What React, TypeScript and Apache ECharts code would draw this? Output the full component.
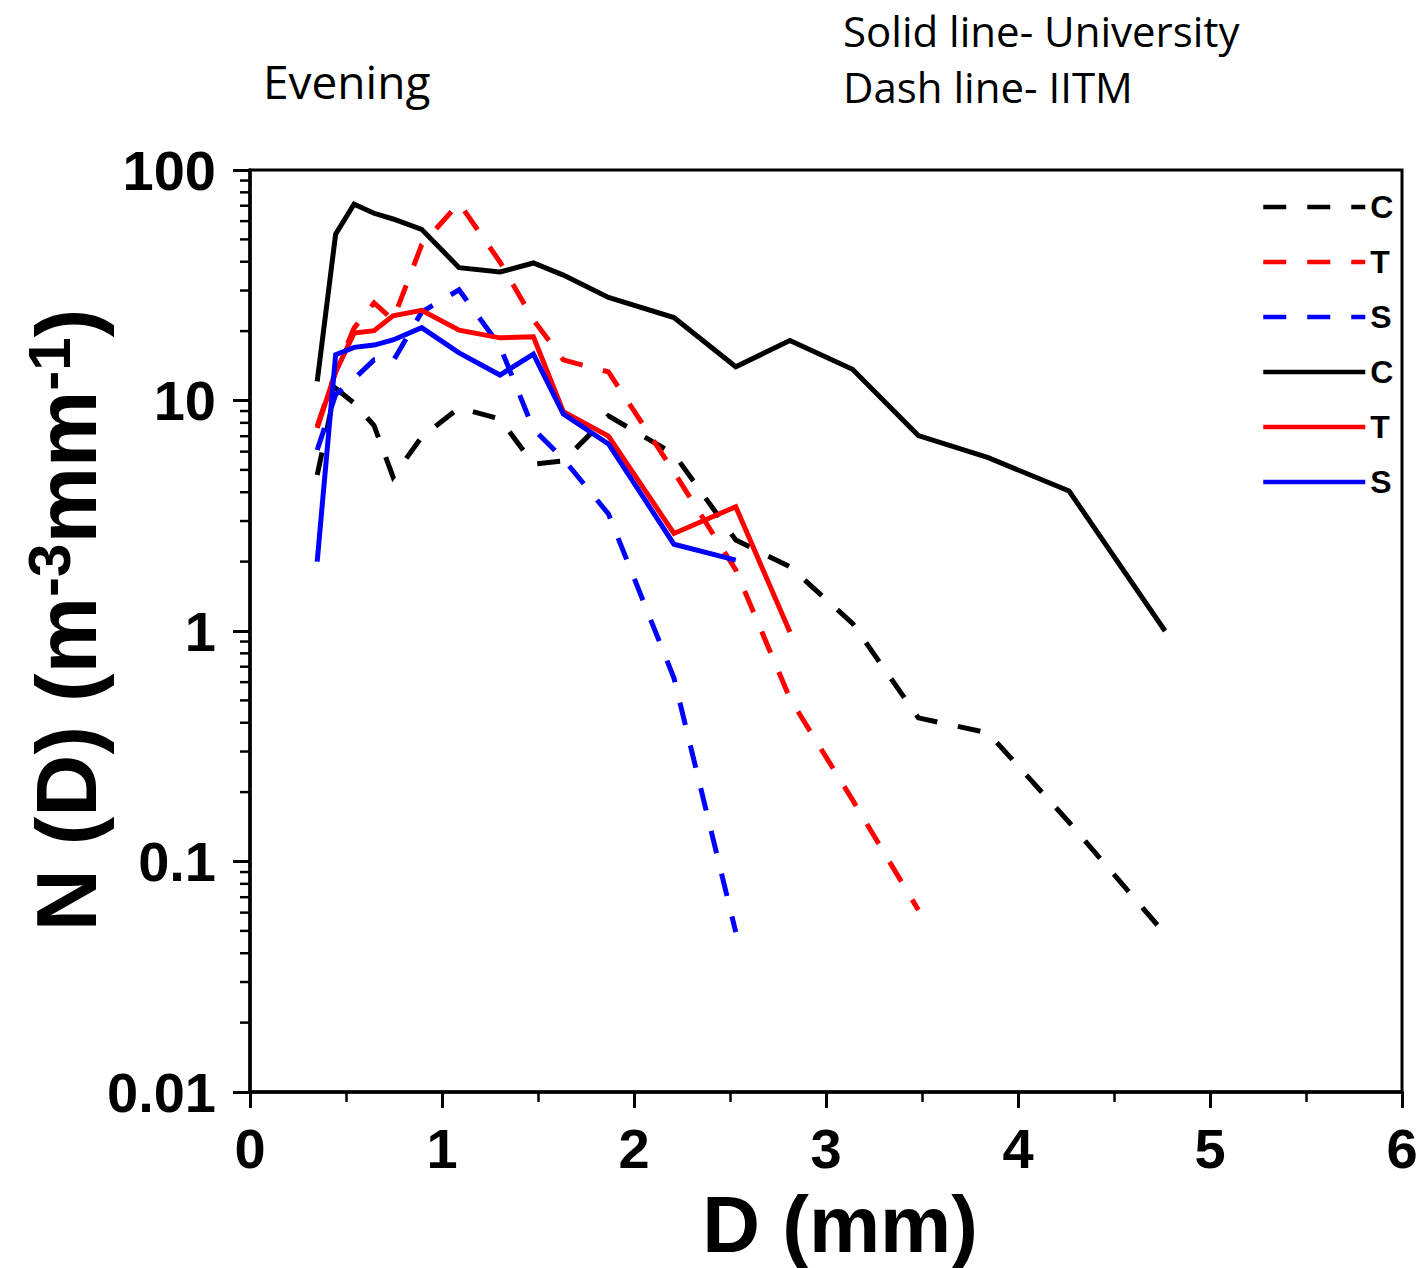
import React, { useEffect, useRef } from "react";
import * as echarts from "echarts";

// Drop diameter bins (mm)
const diameters = [0.35, 0.446, 0.542, 0.646, 0.745, 0.894, 1.089, 1.302, 1.476, 1.632, 1.867, 2.208, 2.53, 2.812, 3.138, 3.481, 3.845, 4.266, 4.766];

// Dash line - IITM
const iitmC = [4.75, 11.3, 9.75, 7.79, 4.66, 6.95, 9.28, 8.31, 5.3, 5.47, 8.57, 5.86, 2.48, 1.9, 1.08, 0.42, 0.361, 0.148, 0.0485];
const iitmT = [7.75, 13.3, 20.6, 26.5, 22.4, 47.3, 71.9, 39.9, 22.4, 15.0, 13.3, 4.9, 1.84, 0.51, 0.185, 0.0616];
const iitmS = [6.1, 10.6, 12.4, 15.0, 14.8, 24.2, 30.2, 17.2, 7.52, 5.58, 3.22, 0.625, 0.0494];

// Solid line - University
const uniC = [12.1, 52.7, 71, 64.9, 61.3, 55.3, 37.7, 36.1, 39.5, 35.0, 28.0, 22.9, 14.0, 18.2, 13.65, 7.04, 5.65, 4.05, 1.0];
const uniT = [7.6, 13.3, 19.6, 20.1, 23.3, 24.6, 20.2, 18.7, 18.9, 8.94, 7.01, 2.65, 3.46, 0.99];
const uniS = [2.0, 15.8, 17.0, 17.4, 18.3, 20.7, 16.1, 12.9, 15.9, 8.74, 6.48, 2.38, 2.03];

const yTickLabels = ["0.01", "0.1", "1", "10", "100"];
const xTickLabels = ["0", "1", "2", "3", "4", "5", "6"];
const legendNames = ["C_d", "T_d", "S_d", "C_s", "T_s", "S_s"];

const minorLogTicks: number[] = [];
for (let e = -2; e <= 1; e++) {
  for (let k = 2; k <= 9; k++) minorLogTicks.push(k * Math.pow(10, e));
}

const BOLD = "'Liberation Sans', Arial, sans-serif";
const DASH = [23, 21];

function pairs(vals: number[]) {
  return vals.map((v, i) => [diameters[i], v]);
}

function lineSeries(name: string, vals: number[], color: string, dashed: boolean) {
  return {
    name,
    type: "line",
    data: pairs(vals),
    symbol: "none",
    lineStyle: { color, width: 5, type: dashed ? DASH : "solid", cap: "butt", join: "miter" },
    itemStyle: { color },
    z: dashed ? 2 : 3,
  };
}

export default function App() {
  const ref = useRef<HTMLDivElement>(null);
  useEffect(() => {
    document.body.style.margin = "0";
    const chart = echarts.init(ref.current!, undefined, { renderer: "svg" });
    chart.setOption({
      animation: false,
      backgroundColor: "#fff",
      grid: {
        left: 250, right: 20, top: 170, bottom: 176,
        show: true, borderColor: "#000", borderWidth: 3,
        containLabel: false, outerBoundsMode: "none",
      },
      legend: {
        data: legendNames,
        orient: "vertical",
        left: 1256,
        top: 185,
        itemWidth: 102,
        itemHeight: 14,
        itemGap: 21,
        itemStyle: { opacity: 0 },
        lineStyle: { width: 4.5 },
        formatter: (n: string) => n.charAt(0),
        textStyle: { fontFamily: BOLD, fontWeight: "bold", fontSize: 32, color: "#000", lineHeight: 34 },
        selectedMode: false,
      },
      xAxis: {
        type: "value",
        min: 0,
        max: 6,
        interval: 1,
        name: "D (mm)",
        nameLocation: "middle",
        nameGap: 92,
        nameTextStyle: { fontFamily: BOLD, fontWeight: "bold", fontSize: 80, color: "#000", padding: [0, 0, 0, 28] },
        axisLine: { lineStyle: { color: "#000", width: 3.5 } },
        axisTick: { show: true, inside: false, length: 16, lineStyle: { color: "#000", width: 3 } },
        minorTick: { show: true, splitNumber: 2, length: 10, lineStyle: { color: "#000", width: 2.5 } },
        splitLine: { show: false },
        axisLabel: {
          margin: 28,
          fontFamily: BOLD,
          fontWeight: "bold",
          fontSize: 56,
          color: "#000",
          formatter: (v: number) => xTickLabels[Math.round(v)] ?? "",
        },
      },
      yAxis: {
        type: "log",
        logBase: 10,
        min: 0.01,
        max: 100,
        axisLine: { lineStyle: { color: "#000", width: 3.5 } },
        axisTick: { show: true, inside: false, length: 17, lineStyle: { color: "#000", width: 3 } },
        splitLine: { show: false },
        axisLabel: {
          margin: 34,
          fontFamily: BOLD,
          fontWeight: "bold",
          fontSize: 56,
          color: "#000",
          formatter: (v: number) => yTickLabels[Math.round(Math.log10(v)) + 2] ?? "",
        },
      },
      graphic: [
        { type: "text", left: 263, top: 58, style: { text: "Evening", fontFamily: "'Open Sans', sans-serif", fontSize: 46, fill: "#000" } },
        { type: "text", left: 843, top: 9, style: { text: "Solid line- University", fontFamily: "'Open Sans', sans-serif", fontSize: 42, fill: "#000" } },
        { type: "text", left: 843, top: 65, style: { text: "Dash line- IITM", fontFamily: "'Open Sans', sans-serif", fontSize: 42, fill: "#000" } },
        {
          type: "text",
          x: 66,
          y: 620,
          rotation: Math.PI / 2,
          style: {
            text: "{a|N (D) (m}{b|-3}{a|mm}{b|-1}{a|)}",
            align: "center",
            verticalAlign: "middle",
            rich: {
              a: { fontFamily: BOLD, fontWeight: "bold", fontSize: 86, fill: "#000", lineHeight: 94, verticalAlign: "middle" },
              b: { fontFamily: BOLD, fontWeight: "bold", fontSize: 60, fill: "#000", lineHeight: 56, verticalAlign: "top" },
            },
          },
        },
      ],
      series: [
        lineSeries("C_d", iitmC, "#000000", true),
        lineSeries("T_d", iitmT, "#ff0000", true),
        lineSeries("S_d", iitmS, "#0000ff", true),
        lineSeries("C_s", uniC, "#000000", false),
        lineSeries("T_s", uniT, "#ff0000", false),
        lineSeries("S_s", uniS, "#0000ff", false),
        {
          type: "custom",
          name: "minorTicks",
          silent: true,
          clip: false,
          data: minorLogTicks.map((v) => [0, v]),
          renderItem: (params: any, api: any) => {
            const p = api.coord([0, api.value(1)]);
            return {
              type: "line",
              shape: { x1: p[0] - 10, y1: p[1], x2: p[0], y2: p[1] },
              style: { stroke: "#000", lineWidth: 2.5 },
            };
          },
        },
      ],
    });
    return () => chart.dispose();
  }, []);
  return <div ref={ref} style={{ position: "fixed", left: 0, top: 0, width: 1422, height: 1268 }} />;
}
